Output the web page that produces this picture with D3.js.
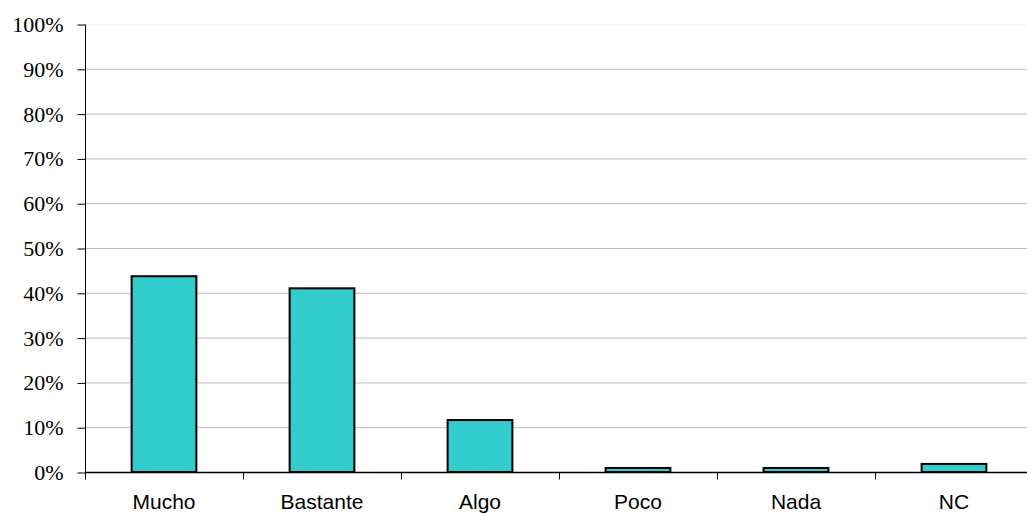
<!DOCTYPE html>
<html><head><meta charset="utf-8">
<script src="https://cdn.jsdelivr.net/npm/d3@7"></script>
<style>body{margin:0;background:#fff}</style>
</head><body>
<svg id="c" width="1027" height="513"></svg>
<script>
const categories = ["Mucho","Bastante","Algo","Poco","Nada","NC"];
const values = [43.7, 41.0, 11.6, 0.9, 0.9, 1.8];
const yTicks = [0,10,20,30,40,50,60,70,80,90,100];

const svg = d3.select("#c");
const mLeft = 85, mRight = 1033, mTop = 24, mBottom = 472;
const x = d3.scaleBand().domain(categories).range([mLeft, mRight]).paddingInner(0.59).paddingOuter(0.295);
const xb = d3.scaleBand().domain(categories).range([mLeft, mRight]);
const y = d3.scaleLinear().domain([0,100]).range([mBottom, mTop]);

// gridlines
svg.append("g").selectAll("line").data(yTicks.filter(d=>d>0)).join("line")
  .attr("x1", mLeft).attr("x2", 1027)
  .attr("y1", d=>y(d)+0.5).attr("y2", d=>y(d)+0.5)
  .attr("stroke", d=> d===100 ? "#f2f2f2" : "#bdbdbd").attr("stroke-width",1);

// bars
svg.append("g").selectAll("rect").data(values).join("rect")
  .attr("x", (d,i)=>x(categories[i]))
  .attr("width", x.bandwidth())
  .attr("y", d=>y(d))
  .attr("height", d=>mBottom - y(d))
  .attr("fill", "#33CCCC").attr("stroke", "#000").attr("stroke-width", 2);

// y axis
const ya = d3.axisLeft(y).tickValues(yTicks).tickFormat(d=>d+"%").tickSize(8).tickPadding(14);
const gy = svg.append("g").attr("transform", `translate(${mLeft+0.5},0.5)`).call(ya);
gy.select(".domain").attr("d", `M0,${mTop}V${mBottom+7}`).attr("stroke","#000");
gy.selectAll("text").attr("font-family","'Liberation Serif','Times New Roman',serif").attr("font-size",22).attr("fill","#000");

// x axis
const gx = svg.append("g").attr("transform", `translate(0,${mBottom+0.5})`);
gx.append("line").attr("x1", mLeft).attr("x2", 1027).attr("stroke","#000").attr("stroke-width",1.5);
gx.selectAll("line.t").data(categories.slice(1)).join("line").attr("class","t")
  .attr("x1", d=>xb(d)+0.5).attr("x2", d=>xb(d)+0.5).attr("y1",0).attr("y2",7).attr("stroke","#000");
gx.selectAll("text").data(categories).join("text")
  .attr("x", d=>xb(d)+xb.bandwidth()/2).attr("y", 36)
  .attr("text-anchor","middle")
  .attr("font-family","'Liberation Sans',Arial,sans-serif").attr("font-size",21).attr("fill","#000")
  .text(d=>d);
</script>
</body></html>
